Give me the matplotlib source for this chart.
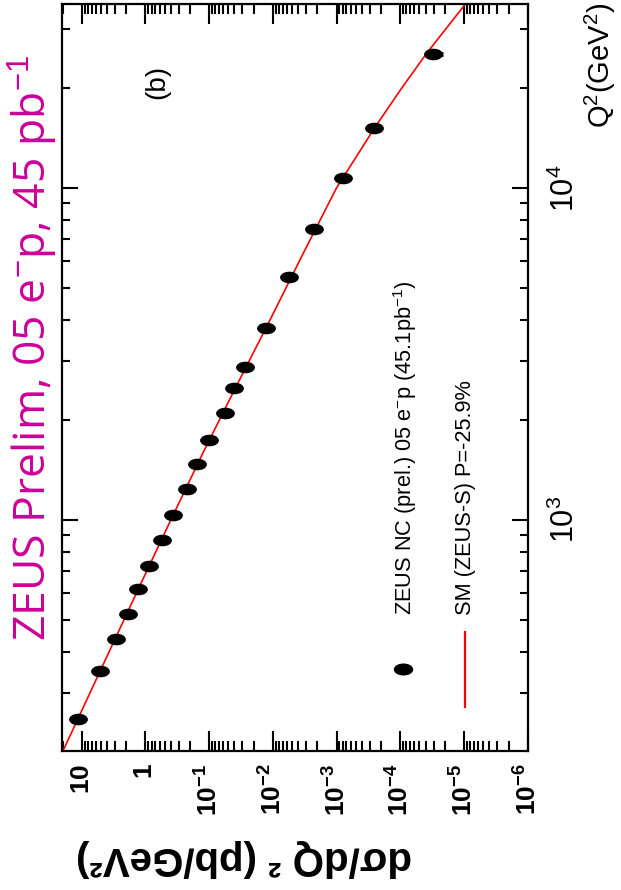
import numpy as np
import matplotlib
matplotlib.use("Agg")
import matplotlib.pyplot as plt
from matplotlib.ticker import LogLocator, FixedLocator, NullFormatter
from matplotlib.path import Path

plt.rcParams['font.family'] = ['Liberation Sans', 'DejaVu Sans']
plt.rcParams['mathtext.fontset'] = 'custom'
plt.rcParams['mathtext.rm'] = 'Liberation Sans'
plt.rcParams['mathtext.it'] = 'Liberation Sans:italic'
plt.rcParams['mathtext.bf'] = 'Liberation Sans:bold'

# ---- data ----
q2_data = [251, 351, 438, 520, 618, 727, 866, 1035, 1236, 1472, 1738, 2090,
           2486, 2890, 3770, 5370, 7540, 10740, 15140, 25350]
xsec_data = [11.4, 5.08, 2.92, 1.91, 1.30, 0.875, 0.558, 0.366, 0.226, 0.157,
             0.0996, 0.0565, 0.0403, 0.0274, 0.0128, 0.00551, 0.00222,
             7.8e-4, 2.54e-4, 3.06e-5]
xsec_err_lo = [0] * 19 + [0.93e-5]
xsec_err_hi = [0] * 19 + [0.5e-5]

q2_sm = [200, 251, 398, 631, 1000, 1585, 2512, 3981, 6310, 10000, 15140,
         19950, 25350, 35800]
xsec_sm = [19.95, 11.5, 3.76, 1.23, 0.398, 0.126, 0.0380, 0.0112, 3.39e-3,
           1.0e-3, 2.54e-4, 9.55e-5, 3.90e-5, 9.5e-6]

xsec_ticks = [10, 1, 1e-1, 1e-2, 1e-3, 1e-4, 1e-5, 1e-6]
xsec_ticklabels = [r'$\mathbf{10}$', r'$\mathbf{1}$', r'$\mathbf{10^{-1}}$',
                   r'$\mathbf{10^{-2}}$', r'$\mathbf{10^{-3}}$',
                   r'$\mathbf{10^{-4}}$', r'$\mathbf{10^{-5}}$',
                   r'$\mathbf{10^{-6}}$']
q2_ticks = [1e3, 1e4]
q2_ticklabels = [r'$10^3$', r'$10^4$']

W, H = 621, 890
fig = plt.figure(figsize=(W / 100, H / 100), dpi=100)
fig.patch.set_facecolor('white')


def fx(x):
    return x / W


def fy(y):
    return 1 - y / H


ax = fig.add_axes([fx(61.7), fy(751), (527.7 - 61.7) / W, (751 - 4) / H])
ax.set_xscale('log')
ax.set_yscale('log')
ax.set_xlim(20.6, 1e-6)
ax.set_ylim(201, 35800)

circ = Path.unit_circle()
ellipse = Path(circ.vertices * np.array([1.7, 1.0]), circ.codes)

ax.plot(xsec_sm, q2_sm, color='red', lw=1.2, zorder=2)
ax.errorbar(xsec_data, q2_data, xerr=[xsec_err_lo, xsec_err_hi], fmt='none',
            ecolor='black', elinewidth=3.5, capsize=0, zorder=3)
ax.plot(xsec_data, q2_data, ls='none', marker=ellipse, ms=12.5,
        color='black', zorder=4)

ax.xaxis.set_major_locator(FixedLocator(xsec_ticks))
ax.xaxis.set_minor_locator(LogLocator(base=10, subs=np.arange(2, 10), numticks=40))
ax.xaxis.set_minor_formatter(NullFormatter())
ax.set_xticklabels(xsec_ticklabels)
ax.yaxis.set_major_locator(FixedLocator(q2_ticks))
ax.yaxis.set_minor_locator(LogLocator(base=10, subs=np.arange(2, 10), numticks=40))
ax.yaxis.set_minor_formatter(NullFormatter())
ax.set_yticklabels(q2_ticklabels)

ax.tick_params(axis='both', which='both', direction='in', top=True,
               bottom=True, left=True, right=True, width=1.5, color='black')
ax.tick_params(axis='x', which='major', length=14.5, pad=9, labelsize=19,
               labelrotation=90, labeltop=False, labelbottom=True)
ax.tick_params(axis='x', which='minor', length=7.2)
ax.tick_params(axis='y', which='major', length=11.5, pad=16, labelsize=22,
               labelrotation=90, labelleft=False, labelright=True)
ax.tick_params(axis='y', which='minor', length=5.8)
for t in ax.get_yticklabels():
    t.set_verticalalignment('center')
for s in ax.spines.values():
    s.set_linewidth(1.6)

# legend
lx_m = (402.7 - 61.7) / 466
ly_m = (751 - 669.3) / 747
ax.plot([lx_m], [ly_m], transform=ax.transAxes, ls='none', marker=ellipse,
        ms=13, color='black', clip_on=False)
lx_l = (465 - 61.7) / 466
ax.plot([lx_l, lx_l], [(751 - 707) / 747, (751 - 632) / 747],
        transform=ax.transAxes, color='red', lw=1.6)
fig.text(fx(405), fy(615), r'ZEUS NC (prel.) 05 e$^{-}$p (45.1pb$^{-1}$)',
         rotation=90, rotation_mode='anchor', ha='left', va='center',
         fontsize=15.7)
fig.text(fx(466), fy(615), 'SM (ZEUS-S) P=-25.9%',
         rotation=90, rotation_mode='anchor', ha='left', va='center',
         fontsize=15.7)

fig.text(fx(157), fy(82), '(b)', rotation=90, ha='center', va='center',
         fontsize=20)

fig.text(fx(600), fy(65), r'Q$^2$(GeV$^2$)', rotation=90, ha='center',
         va='center', fontsize=21)

fig.text(fx(244), fy(858), 'dσ/dQ ² (pb/GeV²)', rotation=180, ha='center',
         va='center', fontsize=29, fontweight='bold')

fig.text(fx(33), fy(348), r'ZEUS Prelim, 05 e$^{-}$p, 45 pb$^{-1}$',
         rotation=90, ha='center', va='center', fontsize=32,
         color='#CC0099', family=['Open Sans', 'DejaVu Sans'])

fig.savefig('out.png', dpi=100, facecolor='white')
